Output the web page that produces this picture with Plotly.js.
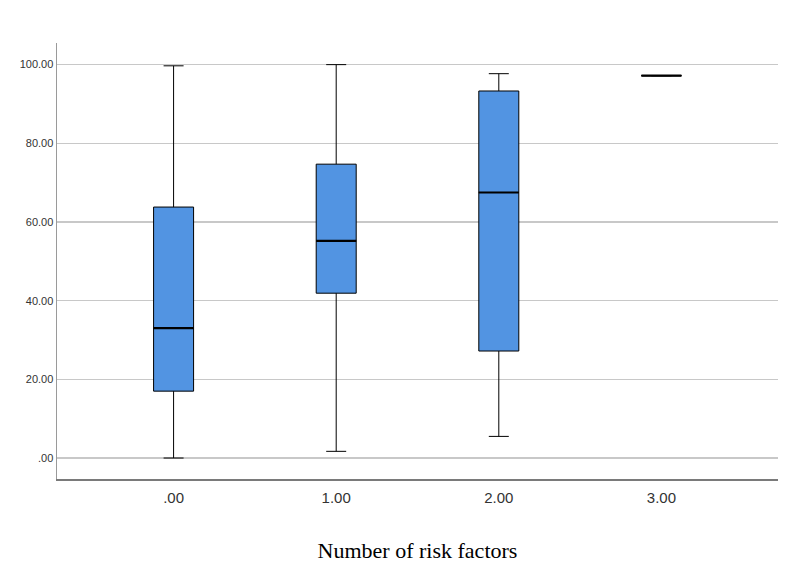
<!DOCTYPE html>
<html>
<head>
<meta charset="utf-8">
<script src="https://cdn.plot.ly/plotly-3.0.1.min.js"></script>
<style>html,body{margin:0;padding:0;background:#fff;}#chart{width:800px;height:580px;}</style>
</head>
<body>
<div id="chart"></div>
<script>
// Data
const categories = [0, 1, 2, 3];
const categoryLabels = [".00", "1.00", "2.00", "3.00"];
const lowerWhisker = [0.0, 1.7, 5.5, 97.2];
const q1 = [17.0, 41.9, 27.2, 97.2];
const median = [33.0, 55.2, 67.5, 97.2];
const q3 = [63.8, 74.7, 93.3, 97.2];
const upperWhisker = [99.7, 100.0, 97.7, 97.2];
const yTickVals = [0, 20, 40, 60, 80, 100];
const yTickText = [".00", "20.00", "40.00", "60.00", "80.00", "100.00"];

const boxTrace = {
  type: 'box',
  x: categories,
  q1: q1,
  median: median,
  q3: q3,
  lowerfence: lowerWhisker,
  upperfence: upperWhisker,
  width: 0.246,
  whiskerwidth: 0.5,
  fillcolor: '#5294e2',
  line: {color: '#000000', width: 1},
  boxpoints: false,
  hoverinfo: 'skip',
  showlegend: false
};
// Overlay to draw the thicker median line
const medianTrace = {
  type: 'box',
  x: categories,
  q1: median,
  median: median,
  q3: median,
  lowerfence: median,
  upperfence: median,
  width: 0.246,
  whiskerwidth: 0,
  fillcolor: 'rgba(0,0,0,0)',
  line: {color: '#000000', width: 2.2},
  boxpoints: false,
  hoverinfo: 'skip',
  showlegend: false
};

const layout = {
  width: 800,
  height: 580,
  paper_bgcolor: '#ffffff',
  plot_bgcolor: '#ffffff',
  margin: {l: 57, r: 22, t: 43, b: 101},
  showlegend: false,
  xaxis: {
    type: 'linear',
    range: [-0.717, 3.717],
    tickvals: categories,
    ticktext: categoryLabels,
    showgrid: false,
    zeroline: false,
    showline: true,
    linecolor: '#7a7a7a',
    linewidth: 1.5,
    ticks: '',
    ticklabelstandoff: 4,
    tickfont: {family: 'Liberation Sans, Arial, sans-serif', size: 15, color: '#333333'},
    title: {
      text: 'Number of risk factors',
      font: {family: 'Liberation Serif, Times New Roman, serif', size: 22, color: '#000000'},
      standoff: 38
    },
    automargin: false
  },
  yaxis: {
    range: [-5.33, 105.5],
    tickvals: yTickVals,
    ticktext: yTickText,
    showgrid: true,
    gridcolor: '#c8c8c8',
    gridwidth: 1.3,
    zeroline: false,
    showline: true,
    linecolor: '#9a9a9a',
    linewidth: 1.5,
    ticks: '',
    tickfont: {family: 'Liberation Sans, Arial, sans-serif', size: 11, color: '#333333'},
    automargin: false
  }
};

Plotly.newPlot('chart', [boxTrace, medianTrace], layout, {displayModeBar: false, staticPlot: true});
</script>
</body>
</html>
